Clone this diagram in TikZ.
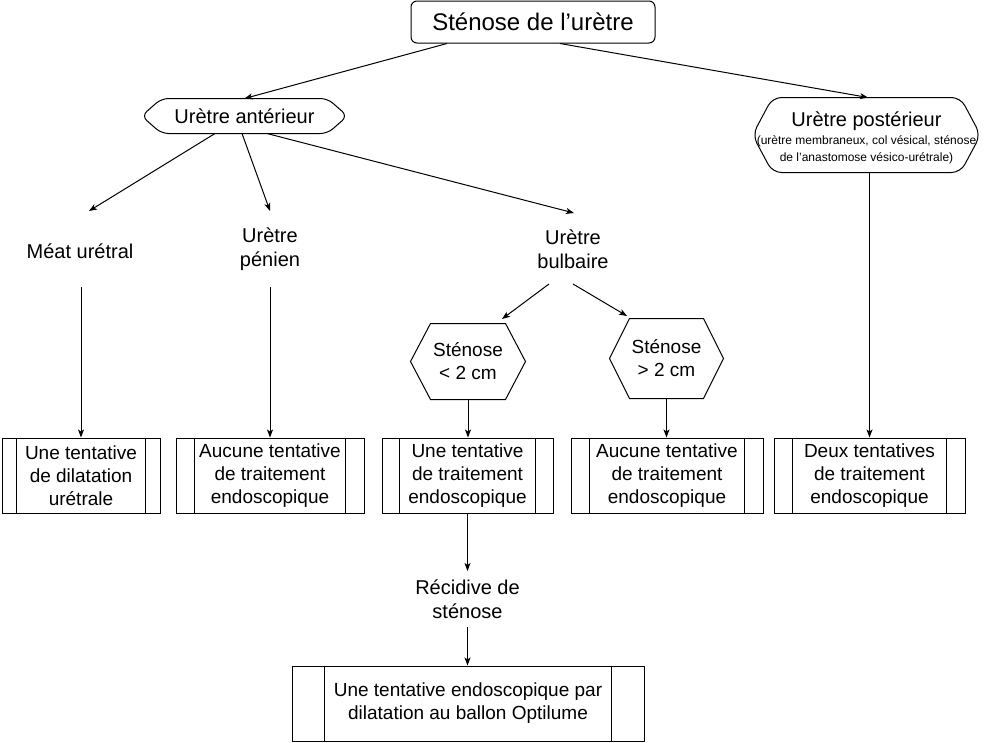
\documentclass[tikz,border=0pt]{standalone}
\usepackage{fontspec}
\setmainfont{Liberation Sans}
\usetikzlibrary{arrows.meta,calc}
\newcommand\procbars[2]{\draw ([xshift=#2]#1.north west) -- ([xshift=#2]#1.south west) ([xshift=-#2]#1.north east) -- ([xshift=-#2]#1.south east);}
\newcommand\hexpath[3]{\draw[rounded corners=#3] (#1.west) -- ([xshift=#2]#1.north west) -- ([xshift=-#2]#1.north east) -- (#1.east) -- ([xshift=-#2]#1.south east) -- ([xshift=#2]#1.south west) -- cycle;}
\begin{document}
\begin{tikzpicture}[x=1pt,y=-1pt,line width=1pt,
  arr/.style={-{Stealth[length=8pt,width=6pt,inset=2pt]}},
  boxtxt/.style={font=\fontsize{19}{23}\selectfont,align=center},
  proc/.style={draw,boxtxt,minimum height=75pt,inner sep=0pt,
    execute at begin node={\rule{0pt}{17.5pt}}},
  freetxt/.style={font=\fontsize{20}{24}\selectfont,align=center,inner sep=0pt},
  hexnode/.style={boxtxt,inner sep=0pt},
]
\useasboundingbox (0,0) rectangle (988,742);

% top
\node[draw,rounded corners=6pt,minimum width=244pt,minimum height=42pt,
      font=\fontsize{24}{28}\selectfont] (top) at (533,22) {Sténose de l’urètre};

% anterior
\node[freetxt,minimum width=205pt,minimum height=34pt] (ant) at (244.5,116) {Urètre antérieur};
\hexpath{ant}{20pt}{7pt}

% posterior
\node[minimum width=227pt,minimum height=74pt,inner sep=0pt] (post) at (866.5,135) {};
\hexpath{post}{20pt}{9pt}
\node[freetxt] (posth) at (866.5,121) {Urètre postérieur};
\node[font=\fontsize{12}{17}\selectfont,align=center,inner sep=0pt] (posts) at (866.5,150)
  {(urètre membraneux, col vésical, sténose\\de l’anastomose vésico-urétrale)};

% free texts
\node[freetxt] (meat) at (80,251) {Méat urétral};
\node[freetxt] (pen) at (270,249) {Urètre\\pénien};
\node[freetxt] (bulb) at (573,249) {Urètre\\bulbaire};
\node[freetxt] (recid) at (467.5,599) {Récidive de\\sténose};

% hexagons
\node[hexnode,minimum width=114pt,minimum height=75pt] (h1) at (468,361.5) {Sténose\\< 2 cm};
\hexpath{h1}{20pt}{0pt}
\node[hexnode,minimum width=113pt,minimum height=79pt] (h2) at (666.5,358.5) {Sténose\\> 2 cm};
\hexpath{h2}{20pt}{0pt}

% process boxes
\node[proc,minimum width=158pt] (b1) at (81,475.5) {Une tentative\\de dilatation\\urétrale};
\node[proc,minimum width=188pt] (b2) at (270,475.5) {Aucune tentative\\de traitement\\endoscopique};
\node[proc,minimum width=171pt] (b3) at (467.5,475.5) {Une tentative\\de traitement\\endoscopique};
\node[proc,minimum width=192pt] (b4) at (667,475.5) {Aucune tentative\\de traitement\\endoscopique};
\node[proc,minimum width=191pt] (b5) at (869.5,475.5) {Deux tentatives\\de traitement\\endoscopique};
\node[proc,minimum width=352pt] (fin) at (468,703.5) {Une tentative endoscopique par\\dilatation au ballon Optilume};
\procbars{b1}{15pt}
\procbars{b2}{19pt}
\procbars{b3}{18pt}
\procbars{b4}{19pt}
\procbars{b5}{19pt}
\procbars{fin}{33pt}

% connector ends
\coordinate (meatin) at (89,211);
\coordinate (penin) at (270,211);
\coordinate (bulbin) at (574,213);
\coordinate (meatout) at (81,287);
\coordinate (penout) at (270,287);
\coordinate (bulbl) at (549,284);
\coordinate (bulbr) at (573,284);
\coordinate (h1in) at (502,319);
\coordinate (h2in) at (627,316);
\coordinate (recidin) at (467.5,571);
\coordinate (recidout) at (467.5,627);

% connectors
\draw[arr] ([xshift=-86pt]top.south) -- (ant.north);
\draw[arr] ([xshift=27pt]top.south) -- ([xshift=1.5pt]post.north);
\draw[arr] ([xshift=-29.5pt]ant.south) -- (meatin);
\draw[arr] ([xshift=-2.5pt]ant.south) -- (penin);
\draw[arr] ([xshift=22.5pt]ant.south) -- (bulbin);
\draw[arr] (meatout) -- (b1.north);
\draw[arr] (penout) -- (b2.north);
\draw[arr] (b5.north |- post.south) -- (b5.north);
\draw[arr] (bulbl) -- (h1in);
\draw[arr] (bulbr) -- (h2in);
\draw[arr] (h1.south) -- (h1.south |- b3.north);
\draw[arr] (h2.south) -- (h2.south |- b4.north);
\draw[arr] (b3.south) -- (recidin);
\draw[arr] (recidout) -- (recidout |- fin.north);
\end{tikzpicture}
\end{document}
